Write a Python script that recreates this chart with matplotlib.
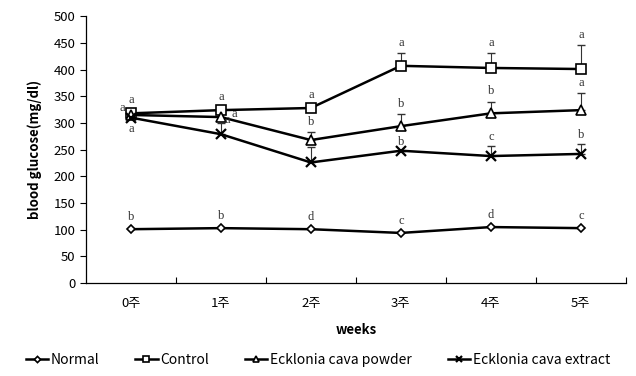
import matplotlib
matplotlib.use("Agg")
import matplotlib.pyplot as plt
from matplotlib.ticker import FixedLocator, NullFormatter

weeks = ["0주", "1주", "2주", "3주", "4주", "5주"]
normal = [101, 103, 101, 94, 105, 103]
control = [318, 324, 328, 407, 403, 401]
powder = [315, 311, 268, 294, 318, 324]
extract = [310, 279, 226, 248, 238, 242]
control_err = [5, 6, 6, 24, 28, 45]
powder_err = [5, 8, 15, 23, 22, 32]
extract_err = [5, 20, 29, 0, 19, 18]
normal_lab = ["b", "b", "d", "c", "d", "c"]
control_lab = ["a", "a", "a", "a", "a", "a"]
powder_lab = ["a", "a", "b", "b", "b", "a"]
extract_lab = ["a", "a", "", "b", "c", "b"]

plt.rcParams['font.family'] = ['Noto Sans CJK KR', 'DejaVu Sans']
fig = plt.figure(figsize=(6.36, 3.76), dpi=100)
ax = fig.add_axes([0.135, 0.247, 0.849, 0.71])
x = list(range(len(weeks)))

lw = 1.8
ax.errorbar(x, control, yerr=[[0]*6, control_err], fmt='none', ecolor='#333333', elinewidth=0.8, capsize=3)
ax.errorbar(x, powder, yerr=[[0]*6, powder_err], fmt='none', ecolor='#333333', elinewidth=0.8, capsize=3)
ax.errorbar(x, extract, yerr=[[0]*6, extract_err], fmt='none', ecolor='#333333', elinewidth=0.8, capsize=3)

ax.plot(x, normal, color='black', lw=lw, marker='D', ms=4.5, mfc='white', mec='black', mew=1.2, label='Normal')
ax.plot(x, control, color='black', lw=lw, marker='s', ms=7, mfc='white', mec='black', mew=1.2, label='Control')
ax.plot(x, powder, color='black', lw=lw, marker='^', ms=7, mfc='white', mec='black', mew=1.2, label='Ecklonia cava powder')
ax.plot(x, extract, color='black', lw=lw, marker='x', ms=7, mec='black', mew=1.6, label='Ecklonia cava extract')

tfont = dict(fontsize=9, color='#333333', family='Liberation Serif', ha='center')
for i in x:
    ax.text(i, normal[i] + 12, normal_lab[i], va='bottom', **tfont)
    ax.text(i, control[i] + control_err[i] + 8, control_lab[i], va='bottom', **tfont)
# powder labels
for i in x:
    if i == 0:
        ax.text(i - 0.1, powder[i] + 2, powder_lab[i], va='bottom', **tfont)
    elif i == 1:
        ax.text(i + 0.15, powder[i] - 5, powder_lab[i], va='bottom', **tfont)
    else:
        ax.text(i, powder[i] + powder_err[i] + 8, powder_lab[i], va='bottom', **tfont)
# extract labels
for i in x:
    if not extract_lab[i]:
        continue
    if i == 0:
        ax.text(i, extract[i] - 10, extract_lab[i], va='top', **tfont)
    elif i == 1:
        ax.text(i + 0.07, extract[i] + 15, extract_lab[i], va='bottom', **tfont)
    else:
        ax.text(i, extract[i] + extract_err[i] + 6, extract_lab[i], va='bottom', **tfont)

ax.set_xlim(-0.5, 5.5)
ax.set_ylim(0, 500)
ax.set_yticks(range(0, 501, 50))
ax.set_xticks(x)
ax.set_xticklabels(weeks, fontsize=9.5)
ax.tick_params(axis='x', which='major', length=0, pad=10)
ax.xaxis.set_minor_locator(FixedLocator([0.5, 1.5, 2.5, 3.5, 4.5, 5.5]))
ax.xaxis.set_minor_formatter(NullFormatter())
ax.tick_params(axis='x', which='minor', direction='in', length=4, width=0.8)
ax.tick_params(axis='y', direction='out', length=4, width=0.8, labelsize=9.5)
ax.spines['top'].set_visible(False)
ax.spines['right'].set_visible(False)
ax.spines['left'].set_linewidth(0.9)
ax.spines['bottom'].set_linewidth(0.9)

ax.set_ylabel('blood glucose(mg/dl)', fontsize=9.5, fontweight='bold', labelpad=8)
ax.set_xlabel('weeks', fontsize=9.5, fontweight='bold', labelpad=9)

fig.legend(loc='lower center', bbox_to_anchor=(0.5, -0.01), ncol=4, frameon=False,
           fontsize=10, handlelength=1.6, handletextpad=0.2, columnspacing=2.6, markerscale=0.7)

fig.savefig('out.png', dpi=100)
